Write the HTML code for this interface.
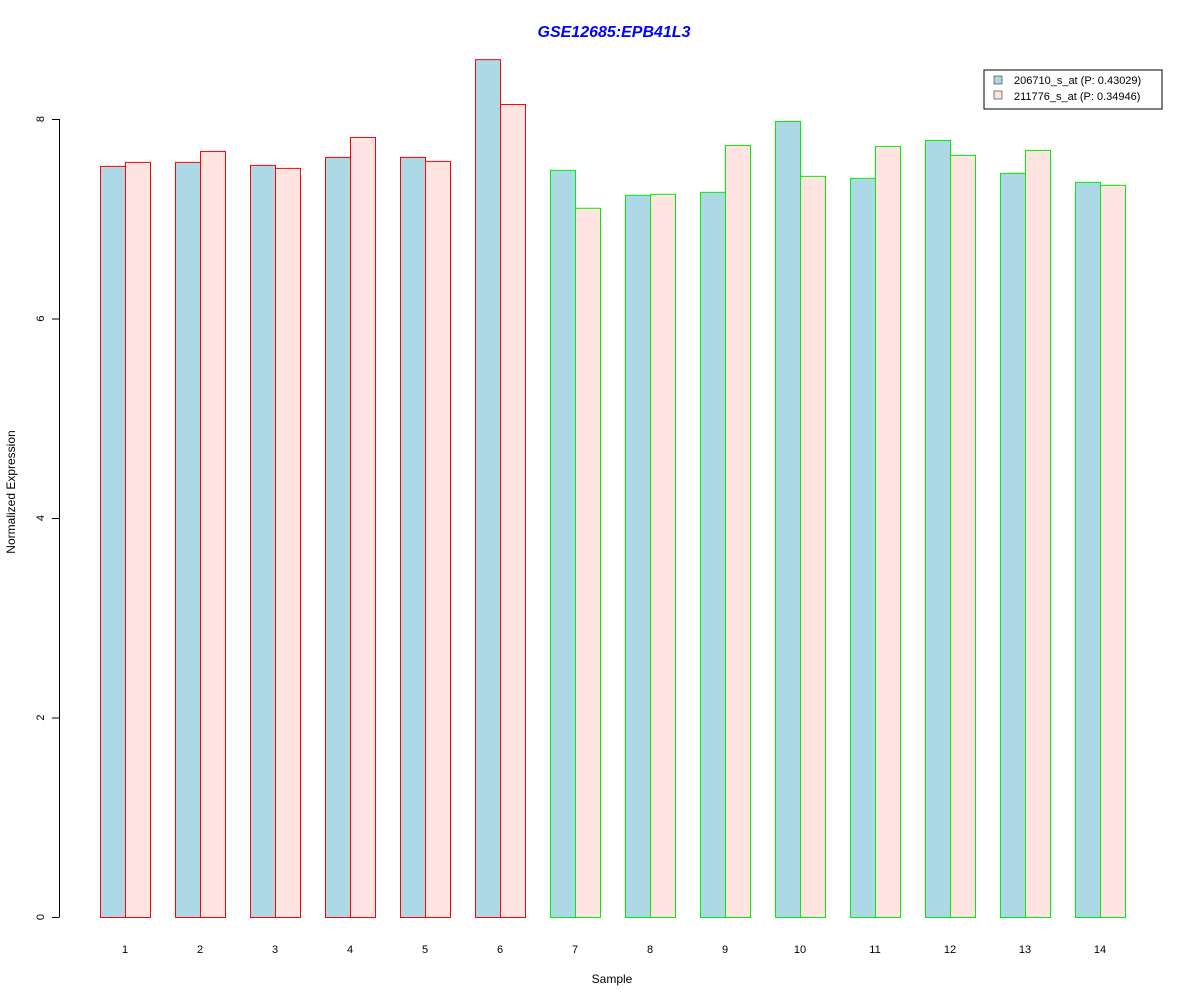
<!DOCTYPE html>
<html><head><meta charset="utf-8"><style>body{margin:0;background:#fff}svg text{font-family:"Liberation Sans",Arial,sans-serif}</style></head>
<body>
<svg id="chart" width="1200" height="1000" xmlns="http://www.w3.org/2000/svg">
<rect width="1200" height="1000" fill="#fff"/>
<text x="614" y="37" text-anchor="middle" font-size="16" font-weight="bold" font-style="italic" fill="#0000ff">GSE12685:EPB41L3</text>
<text x="612" y="983" text-anchor="middle" font-size="12">Sample</text>
<text transform="translate(15,492) rotate(-90)" text-anchor="middle" font-size="12">Normalized Expression</text>
<g id="bars"></g><g id="yaxis"></g><g id="xlabels"></g>
<g>
<rect x="984" y="70" width="178" height="39" fill="#fff" stroke="#000"/>
<rect x="994" y="76" width="8" height="8" fill="#add8e6" stroke="#000" stroke-width="0.5"/>
<text x="1014" y="84" font-size="11">206710_s_at (P: 0.43029)</text>
<rect x="994" y="91" width="8" height="8" fill="#ffe4e1" stroke="#000" stroke-width="0.5"/>
<text x="1014" y="100" font-size="11">211776_s_at (P: 0.34946)</text>
</g>
</svg>
<script>
const categories=["1","2","3","4","5","6","7","8","9","10","11","12","13","14"];
const series1=[7.53,7.57,7.54,7.62,7.62,8.60,7.49,7.24,7.27,7.98,7.41,7.79,7.46,7.37];
const series2=[7.57,7.68,7.51,7.82,7.58,8.15,7.11,7.25,7.74,7.43,7.73,7.64,7.69,7.34];
const groupColors=["red","red","red","red","red","red","#00ee00","#00ee00","#00ee00","#00ee00","#00ee00","#00ee00","#00ee00","#00ee00"];
const yTicks=[0,2,4,6,8];
const NS="http://www.w3.org/2000/svg";
const y=v=>917-v*99.75;
const x=i=>100+i*75;
function mk(t,a,p){const e=document.createElementNS(NS,t);for(const k in a)e.setAttribute(k,a[k]);p.appendChild(e);return e;}
const bars=document.getElementById('bars'),ya=document.getElementById('yaxis'),xl=document.getElementById('xlabels');
categories.forEach((c,i)=>{
 const b1=mk('rect',{x:x(i)+0.5,y:y(series1[i])+0.5,width:25,height:917-y(series1[i]),fill:'#add8e6',stroke:groupColors[i]},bars);
 
 
 const b2=mk('rect',{x:x(i)+25.5,y:y(series2[i])+0.5,width:25,height:917-y(series2[i]),fill:'#ffe4e1',stroke:groupColors[i]},bars);
 
 
 const t=mk('text',{x:x(i)+25,y:953,'text-anchor':'middle','font-size':11},xl);t.textContent=c;
 
 
});
const ax=mk('line',{x1:59.5,x2:59.5,y1:y(0),y2:y(8),stroke:'#000'},ya);


yTicks.forEach(v=>{
 mk('line',{x1:52,x2:59.5,y1:y(v)+0.5,y2:y(v)+0.5,stroke:'#000'},ya);
 const t=mk('text',{transform:`translate(44,${y(v)}) rotate(-90)`,'text-anchor':'middle','font-size':11},ya);t.textContent=v;
 
 
});
</script>
</body></html>
